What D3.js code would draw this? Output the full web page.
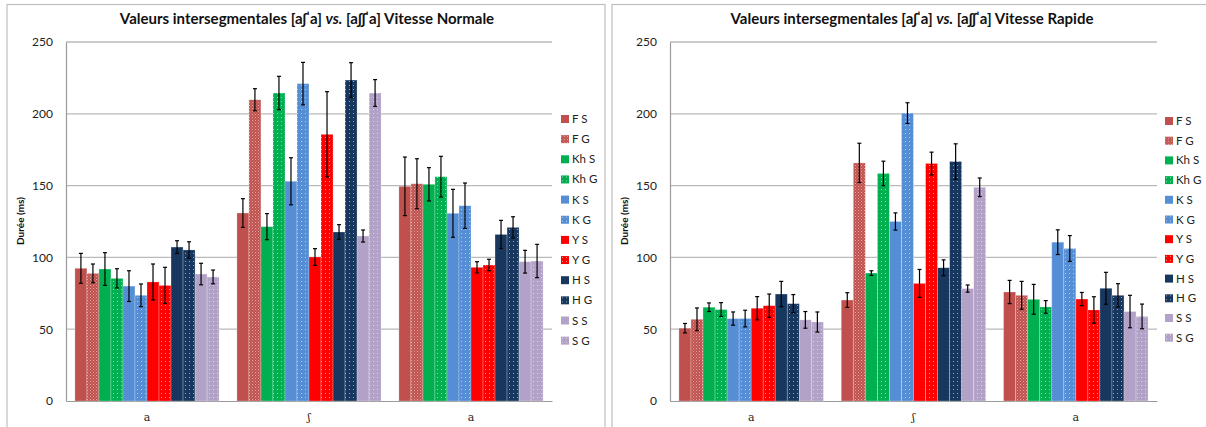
<!DOCTYPE html>
<html>
<head>
<meta charset="utf-8">
<script src="https://cdn.jsdelivr.net/npm/d3@7"></script>
<style>
  body { margin: 0; background: #fff; }
  svg { display: block; font-family: Lato, "Open Sans", sans-serif; }
</style>
</head>
<body>
<svg id="chart" width="1206" height="427"></svg>
<script>
// categories and series
const groups = ["a", "ʃ", "a"];
const series = ["F S", "F G", "Kh S", "Kh G", "K S", "K G", "Y S", "Y G", "H S", "H G", "S S", "S G"];
const seriesColors = ["#C0504D", "#C0504D", "#00B050", "#00B050", "#558ED5", "#558ED5",
                      "#FF0000", "#FF0000", "#17375E", "#17375E", "#B3A2C7", "#B3A2C7"];
const yTicks = [0, 50, 100, 150, 200, 250];

// Vitesse Normale : mean per group (rows = groups, columns = series)
const normaleMeans = [
  [92.4, 88.9, 91.9, 85.4, 80.0, 73.6, 82.9, 80.5, 107.2, 105.2, 88.4, 86.4],
  [130.9, 209.8, 121.4, 214.5, 153.0, 221.0, 100.3, 185.7, 117.7, 223.5, 114.9, 214.5],
  [149.5, 151.3, 150.9, 156.2, 130.7, 136.0, 93.1, 94.7, 116.0, 120.9, 97.0, 97.5]
];
const normaleErrors = [
  [10.4, 6.5, 11.4, 6.7, 10.7, 7.9, 12.5, 12.6, 4.4, 5.7, 7.5, 4.8],
  [10.0, 7.7, 9.1, 11.6, 16.4, 14.8, 5.8, 29.7, 5.1, 12.1, 4.2, 9.3],
  [20.4, 17.4, 11.6, 14.2, 16.7, 15.8, 3.9, 4.0, 9.8, 7.4, 7.9, 11.6]
];

// Vitesse Rapide
const rapideMeans = [
  [50.7, 56.9, 65.3, 63.7, 57.4, 57.4, 64.6, 66.4, 74.5, 67.8, 56.5, 55.0],
  [70.3, 165.8, 89.1, 158.5, 125.0, 200.5, 81.9, 165.4, 92.8, 166.8, 78.3, 148.8],
  [75.9, 73.6, 70.8, 65.5, 110.6, 106.2, 71.0, 63.4, 78.5, 73.6, 62.3, 58.9]
];
const rapideErrors = [
  [3.3, 7.9, 3.0, 4.8, 4.6, 5.8, 8.1, 8.1, 8.8, 6.3, 5.8, 7.0],
  [5.1, 13.7, 1.6, 8.5, 6.0, 7.2, 9.7, 7.9, 5.5, 12.3, 2.5, 6.5],
  [8.1, 9.7, 10.4, 4.4, 8.6, 9.0, 4.6, 9.2, 11.1, 8.1, 11.3, 8.6]
];

const svg = d3.select("#chart");

// patterns for the "G" series (dotted fills)
const defs = svg.append("defs");
series.forEach((s, i) => {
  if (i % 2 === 0) return;
  let p;
  if (i === 1) {
    p = defs.append("pattern").attr("id", "pat" + i)
      .attr("patternUnits", "userSpaceOnUse").attr("width", 3).attr("height", 3);
    p.append("rect").attr("width", 3).attr("height", 3).attr("fill", seriesColors[i]);
    p.append("rect").attr("x", 0).attr("y", 0).attr("width", 1).attr("height", 1)
      .attr("fill", "#fff").attr("opacity", 0.5);
    p.append("rect").attr("x", 1.5).attr("y", 1.5).attr("width", 1).attr("height", 1)
      .attr("fill", "#fff").attr("opacity", 0.35);
  } else {
    p = defs.append("pattern").attr("id", "pat" + i)
      .attr("patternUnits", "userSpaceOnUse").attr("width", 4).attr("height", 4);
    p.append("rect").attr("width", 4).attr("height", 4).attr("fill", seriesColors[i]);
    p.append("rect").attr("x", 1).attr("y", 1).attr("width", 1).attr("height", 1)
      .attr("fill", "#fff").attr("opacity", 0.55);
  }
});

function fillOf(i) {
  return i % 2 === 0 ? seriesColors[i] : "url(#pat" + i + ")";
}

function drawChart(cfg) {
  let g = svg.append("g");

  // panel border
  g.append("rect")
    .attr("x", cfg.panel[0]).attr("y", 4.5)
    .attr("width", cfg.panel[1] - cfg.panel[0]).attr("height", 440)
    .attr("fill", "none").attr("stroke", "#BFBFBF").attr("stroke-width", 1.2);

  let y = d3.scaleLinear().domain([0, 250]).range([401, 42]);
  let x0 = d3.scaleBand().domain([0, 1, 2]).range([cfg.x0, cfg.x1]);
  let bw = x0.bandwidth();
  let x1 = d3.scaleBand().domain(series).range([bw * 0.055, bw * 0.945]);

  // gridlines
  g.append("g").selectAll("line")
    .data(yTicks.filter(d => d > 0))
    .enter().append("line")
    .attr("x1", cfg.x0).attr("x2", cfg.x1)
    .attr("y1", d => y(d)).attr("y2", d => y(d))
    .attr("stroke", "#BABABA").attr("stroke-width", 1.3);

  // y axis
  let yAxis = g.append("g")
    .attr("transform", "translate(" + cfg.x0 + ",0)")
    .call(d3.axisLeft(y).tickValues(yTicks).tickSize(0).tickPadding(13));
  yAxis.select(".domain").attr("stroke", "#9A9A9A").attr("stroke-width", 1.2);
  yAxis.selectAll("text").attr("font-size", 12).attr("fill", "#222")
    .attr("font-family", "Lato, sans-serif");

  // x axis
  let xAxis = g.append("g")
    .attr("transform", "translate(0,401)")
    .call(d3.axisBottom(x0).tickSize(0).tickPadding(12).tickFormat(i => groups[i]));
  xAxis.select(".domain").attr("stroke", "#9A9A9A").attr("stroke-width", 1.2);
  xAxis.selectAll("text").attr("font-size", 11).attr("fill", "#222")
    .attr("font-family", "'DejaVu Serif', 'Liberation Serif', serif");

  // bars
  let cells = [];
  cfg.means.forEach((row, gi) => {
    row.forEach((v, si) => {
      cells.push({ g: gi, s: si, v: v, e: cfg.errors[gi][si] });
    });
  });

  g.append("g").selectAll("rect")
    .data(cells)
    .enter().append("rect")
    .attr("x", d => x0(d.g) + x1(series[d.s]))
    .attr("y", d => y(d.v))
    .attr("width", x1.bandwidth())
    .attr("height", d => y(0) - y(d.v))
    .attr("fill", d => fillOf(d.s))
    .attr("stroke", "#fff").attr("stroke-opacity", 0.3).attr("stroke-width", 0.8);

  // error bars
  let eb = g.append("g").selectAll("g")
    .data(cells)
    .enter().append("g")
    .attr("transform", d => "translate(" + (x0(d.g) + x1(series[d.s]) + x1.bandwidth() / 2) + ",0)");
  eb.append("line")
    .attr("y1", d => y(d.v - d.e)).attr("y2", d => y(d.v + d.e))
    .attr("stroke", "#000").attr("stroke-width", 1.2);
  eb.append("line")
    .attr("x1", -2).attr("x2", 2)
    .attr("y1", d => y(d.v + d.e)).attr("y2", d => y(d.v + d.e))
    .attr("stroke", "#000").attr("stroke-width", 1.2);
  eb.append("line")
    .attr("x1", -2).attr("x2", 2)
    .attr("y1", d => y(d.v - d.e)).attr("y2", d => y(d.v - d.e))
    .attr("stroke", "#000").attr("stroke-width", 1.2);

  // title
  let t = g.append("text")
    .attr("x", cfg.titleX).attr("y", 24)
    .attr("text-anchor", "middle")
    .attr("font-size", 15).attr("font-weight", "bold").attr("fill", "#111");
  t.append("tspan").text("Valeurs intersegmentales [aʃˈa] ");
  t.append("tspan").attr("font-style", "italic").text("vs.");
  t.append("tspan").text(" [aʃʃˈa] " + cfg.title);

  // y label
  g.append("text")
    .attr("transform", "translate(" + cfg.labelX + ",221) rotate(-90)")
    .attr("text-anchor", "middle")
    .attr("font-size", 10).attr("font-weight", "bold").attr("fill", "#111")
    .text("Durée (ms)");

  // legend
  let leg = g.append("g").selectAll("g")
    .data(series)
    .enter().append("g")
    .attr("transform", (d, i) => "translate(" + cfg.legX + "," + (cfg.legY + i * cfg.legStep) + ")");
  leg.append("rect")
    .attr("x", 0).attr("y", -4).attr("width", 8).attr("height", 8)
    .attr("fill", (d, i) => fillOf(i));
  leg.append("text")
    .attr("x", 11).attr("y", 4)
    .attr("font-size", 11.5).attr("fill", "#222")
    .text(d => d);
}

drawChart({
  panel: [7, 605], x0: 66, x1: 552, titleX: 307, title: "Vitesse Normale",
  labelX: 24, legX: 561, legY: 119, legStep: 20.15,
  means: normaleMeans, errors: normaleErrors
});
drawChart({
  panel: [612, 1212], x0: 670, x1: 1157, titleX: 912, title: "Vitesse Rapide",
  labelX: 628, legX: 1165, legY: 121, legStep: 19.7,
  means: rapideMeans, errors: rapideErrors
});
</script>
</body>
</html>
